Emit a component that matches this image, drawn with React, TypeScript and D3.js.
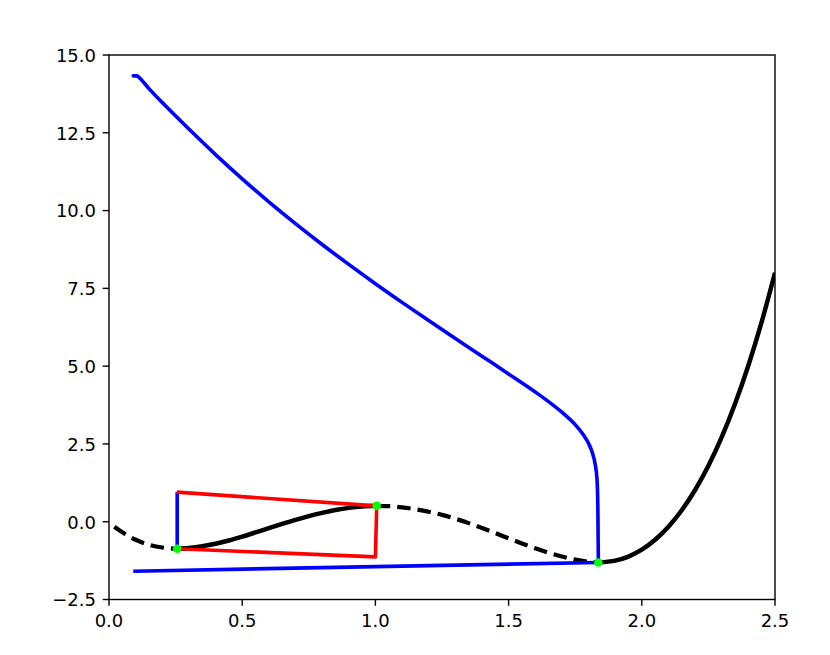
import React from "react";
import * as d3 from "d3";

// figure size and plot box (pixels)
const width = 830,
  height = 655;
const left = 109,
  right = 775,
  top = 55,
  bottom = 599.5;

const xTicks = [0, 0.5, 1, 1.5, 2, 2.5];
const yTicks = [-2.5, 0, 2.5, 5, 7.5, 10, 12.5, 15];

// black curve: dashed / solid pieces
const blackDashLeft = [
  [0.02, -0.16], [0.05, -0.34], [0.1, -0.58], [0.15, -0.74], [0.2, -0.83], [0.256, -0.87],
];
const blackSolidMid = [
  [0.256, -0.87], [0.3, -0.845], [0.35, -0.79], [0.4, -0.71], [0.45, -0.605], [0.5, -0.48],
  [0.55, -0.345], [0.6, -0.205], [0.65, -0.07], [0.7, 0.06], [0.75, 0.18], [0.8, 0.285],
  [0.85, 0.375], [0.9, 0.445], [0.95, 0.49], [1.005, 0.51],
];
const blackDashRight = [
  [1.005, 0.51], [1.05, 0.5], [1.1, 0.46], [1.15, 0.4], [1.2, 0.32], [1.25, 0.22],
  [1.3, 0.095], [1.35, -0.045], [1.4, -0.2], [1.45, -0.365], [1.5, -0.535], [1.55, -0.7],
  [1.6, -0.855], [1.65, -0.995], [1.7, -1.12], [1.75, -1.22], [1.8, -1.285], [1.837, -1.31],
];
const blackSolidRight = [
  [1.837, -1.31], [1.9, -1.25], [1.95, -1.12], [2.0, -0.9], [2.05, -0.58], [2.1, -0.16],
  [2.15, 0.37], [2.2, 1.02], [2.25, 1.8], [2.3, 2.72], [2.35, 3.79], [2.4, 5.02],
  [2.45, 6.42], [2.5, 8.0],
];

// blue trajectory
const blueCurve = [
  [0.091, 14.33], [0.105, 14.33], [0.115, 14.26], [0.15, 13.92], [0.2, 13.47], [0.3, 12.62],
  [0.4, 11.8], [0.5, 11.02], [0.6, 10.28], [0.7, 9.58], [0.8, 8.91], [0.9, 8.27],
  [1.0, 7.65], [1.1, 7.05], [1.2, 6.465], [1.3, 5.89], [1.4, 5.32], [1.5, 4.75],
  [1.6, 4.17], [1.65, 3.86], [1.7, 3.52], [1.75, 3.12], [1.78, 2.8], [1.8, 2.52],
  [1.815, 2.2], [1.825, 1.85], [1.832, 1.35], [1.835, 0.5], [1.836, -0.5], [1.837, -1.31],
];
const blueBottom = [[1.837, -1.31], [0.091, -1.59]];
const blueVertical = [[0.256, -0.87], [0.256, 0.95]];

// red polygon
const redPath = [[0.254, 0.95], [1.005, 0.51], [1.0, -1.13], [0.256, -0.87]];

// green markers
const greenPoints = [[0.256, -0.87], [1.005, 0.51], [1.837, -1.31]];

export default function App() {
  const x = d3.scaleLinear().domain([0, 2.5]).range([left, right]);
  const y = d3.scaleLinear().domain([-2.5, 15]).range([bottom, top]);
  const fmt = d3.format(".1f");

  const smooth = d3
    .line()
    .x((d) => x(d[0]))
    .y((d) => y(d[1]))
    .curve(d3.curveMonotoneX);
  const straight = d3
    .line()
    .x((d) => x(d[0]))
    .y((d) => y(d[1]));

  return (
    <svg
      width={width}
      height={height}
      style={{ position: "absolute", left: 0, top: 0, background: "#fff" }}
      fontFamily="DejaVu Sans"
    >
      <defs>
        <clipPath id="plot">
          <rect x={left} y={top} width={right - left} height={bottom - top} />
        </clipPath>
      </defs>
      <g clipPath="url(#plot)" fill="none" strokeLinejoin="round">
        <path d={smooth(blackDashLeft)} stroke="#000" strokeWidth={4.2} strokeDasharray="13.5 7" />
        <path d={smooth(blackDashRight)} stroke="#000" strokeWidth={4.2} strokeDasharray="13.5 7" />
        <path d={smooth(blackSolidMid)} stroke="#000" strokeWidth={4.5} />
        <path d={smooth(blackSolidRight)} stroke="#000" strokeWidth={4.5} />
        <path d={smooth(blueCurve)} stroke="#0000ff" strokeWidth={3.6} strokeLinecap="round" />
        <path d={straight(blueBottom)} stroke="#0000ff" strokeWidth={3.6} />
        <path d={straight(blueVertical)} stroke="#0000ff" strokeWidth={3.6} />
        <path d={straight(redPath)} stroke="#ff0000" strokeWidth={3.6} />
        {greenPoints.map((p, i) => (
          <circle key={i} cx={x(p[0])} cy={y(p[1])} r={4.3} fill="#00ff00" stroke="none" />
        ))}
      </g>

      {/* spines */}
      <rect x={left} y={top} width={right - left} height={bottom - top} fill="none" stroke="#000" strokeWidth={1.4} />

      {/* x axis */}
      {xTicks.map((t) => (
        <g key={"x" + t}>
          <line x1={x(t)} x2={x(t)} y1={bottom} y2={bottom + 6.3} stroke="#000" strokeWidth={1.4} />
          <text x={x(t)} y={bottom + 27.5} textAnchor="middle" fontSize={18}>
            {fmt(t)}
          </text>
        </g>
      ))}

      {/* y axis */}
      {yTicks.map((t) => (
        <g key={"y" + t}>
          <line x1={left - 6.3} x2={left} y1={y(t)} y2={y(t)} stroke="#000" strokeWidth={1.4} />
          <text x={left - 13} y={y(t) + 6.8} textAnchor="end" fontSize={18}>
            {fmt(t)}
          </text>
        </g>
      ))}
    </svg>
  );
}
